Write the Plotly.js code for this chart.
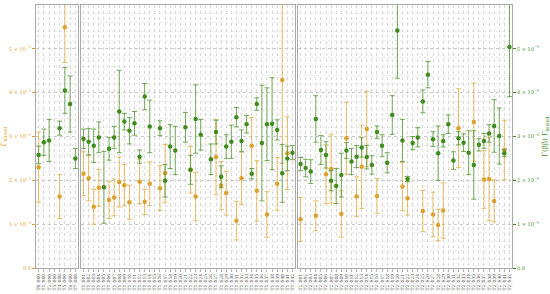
<html>
<head>
<meta charset="utf-8">
<script src="https://cdn.plot.ly/plotly-3.0.1.min.js"></script>
<style>
  body {margin:0; background:#fff}
  #chart {width:550px; height:294px}
</style>
</head>
<body>
<div id="chart"></div>
<script>
// values in units of 1e-9
var labelsA = 'T0_000 T1_000 T2_000 T3_000 T4_000 T5_000 T6_000 T7_000'.split(' ');
var greenA = [2.58, 2.87, 2.91, null, 3.19, 4.05, 3.74, 2.50];
var greenErrA = [0.2, 0.3, 0.48, 0, 0.16, 0.52, 0.64, 0.23];
var orangeA = [2.30, null, null, null, 1.63, 5.49, null, null];
var orangeErrA = [0.8, 0, 0, 0, 0.5, 0.8, 0, 0];

var labelsB = ('T1_001 T1_002 T1_003 T1_004 T1_005 T1_006 T1_007 T1_008 T1_009 T1_010 T1_011 T1_012 T1_013 T1_014 ' +
  'T1_015 T1_016 T1_017 T1_018 T1_019 T1_020 T1_021 T1_022 T1_023 T1_024 T1_025 T1_026 T1_027 T1_028 ' +
  'T1_029 T1_030 T1_031 T1_032 T1_033 T1_034 T1_035 T1_036 T1_037 T1_038 T1_039 T1_040 T1_041 T1_042').split(' ');
var greenB = [2.95, 2.88, 2.79, 2.98, 1.84, 2.72, 2.98, 3.57, 3.34, 3.13, 3.30, 2.54, 3.91, 3.23,
  null, 3.19, 1.99, 2.77, 2.68, null, 3.21, 2.24, 3.40, 3.04, null, 2.48, 3.10, 2.08,
  2.77, 2.88, 3.44, 2.90, 3.28, 2.15, 3.74, 2.85, 3.28, 3.29, 3.15, 2.16, 2.50, 2.63];
var greenErrB = [0.22, 0.3, 0.38, 0.35, 0.82, 0.26, 0.25, 0.94, 0.19, 0.3, 0.27, 0.15, 0.3, 0.6,
  0, 0.17, 0.37, 0.5, 0.55, 0, 0.34, 0.33, 0.78, 0.35, 0, 0.35, 0.27, 0.25,
  0.27, 0.38, 0.22, 0.25, 0.2, 0.12, 0.14, 1.32, 0.83, 1.05, 0.23, 0.66, 0.28, 0.16];
var orangeB = [2.15, 2.05, 1.40, 1.83, null, 1.55, 1.61, 1.96, 1.89, 1.50, null, 1.97, 1.51, 1.92,
  null, 1.82, 2.16, null, null, null, null, 2.24, 1.63, null, null, null, 2.53, 1.88,
  1.71, null, 1.08, 2.05, null, 2.79, 1.76, null, 1.22, null, 1.92, 4.29, 2.62, null];
var orangeErrB = [0.5, 0.52, 0.4, 0.42, 0, 0.42, 0.42, 0.57, 0.47, 0.39, 0, 0.5, 0.29, 0.5,
  0, 0.51, 0.66, 0, 0, 0, 0, 0.53, 0.55, 0, 0, 0, 0.86, 0.55,
  0.5, 0, 0.44, 0.6, 0, 0.64, 0.69, 0, 0.52, 0, 0.6, 1.9, 0.83, 0];

var labelsC = ('T2_001 T2_002 T2_003 T2_004 T2_005 T2_006 T2_007 T2_008 T2_009 T2_010 T2_011 T2_012 T2_013 T2_014 ' +
  'T2_015 T2_016 T2_017 T2_018 T2_019 T2_020 T2_021 T2_022 T2_023 T2_024 T2_025 T2_026 T2_027 T2_028 ' +
  'T2_029 T2_030 T2_031 T2_032 T2_033 T2_034 T2_035 T2_036 T2_037 T2_038 T2_039 T2_040 T2_041 T2_042').split(' ');
var greenC = [2.37, 2.28, 2.20, 3.40, 2.69, 2.58, 1.99, 1.87, 2.12, 2.68, 2.43, 2.54, 2.75, 2.53,
  2.35, 3.10, 2.79, 2.40, 3.49, 5.42, 2.91, 2.03, 2.85, 2.98, 3.80, 4.41, 2.94, 2.62,
  2.90, 3.28, 2.45, 2.96, 2.86, 2.63, 2.35, 2.81, 2.90, 3.07, 3.24, 3.01, 2.62, 5.04];
var greenErrC = [0.15, 0.2, 0.27, 0.53, 0.33, 0.3, 0.23, 0.4, 0.5, 0.18, 0.3, 0.25, 0.22, 0.27,
  0.21, 0.14, 0.25, 0.23, 0.44, 1.09, 0.48, 0.06, 0.15, 0.22, 0.26, 0.3, 0.17, 0.62,
  0.14, 0.21, 0.2, 0.15, 0.2, 0.5, 0.78, 0.14, 0.17, 0.2, 0.6, 0.64, 0.08, 1.13];
var orangeC = [1.11, null, null, 1.19, null, 2.14, 2.26, null, 1.23, 2.96, null, 1.63, 2.31, 3.17,
  null, 1.64, null, null, null, null, 1.86, 1.59, null, null, 1.30, null, 1.22, 0.98,
  1.31, null, null, 3.19, null, null, 3.33, null, 2.02, 2.03, 1.53, null, 2.69, null];
var orangeErrC = [0.5, 0, 0, 0.34, 0, 0.67, 0.78, 0, 0.53, 0.82, 0, 0.45, 0.95, 0.86,
  0, 0.4, 0, 0, 0, 0, 0.55, 0.38, 0, 0, 0.47, 0, 0.51, 0.36,
  0.63, 0, 0, 0.9, 0, 0, 0.89, 0, 0.66, 0.95, 0.48, 0, 0.68, 0];

var ORANGE = '#dca12e', ORANGE_BAR = 'rgba(226,170,60,0.75)';
var GREEN = '#3f8c1c', GREEN_BAR = 'rgba(82,150,50,0.8)';
var E = 1e-9;

function scale(arr) {
    return arr.map(function (v) { return v === null ? null : v * E; });
}

function makeTrace(labels, vals, errs, color, barColor, xa, ya) {
    return {
        type: 'scatter', mode: 'markers',
        x: labels, y: scale(vals),
        xaxis: xa, yaxis: ya,
        marker: {color: color, size: 4.5},
        error_y: {type: 'data', array: scale(errs), color: barColor, thickness: 1, width: 2.5},
        hoverinfo: 'skip'
    };
}

var data = [
    makeTrace(labelsA, orangeA, orangeErrA, ORANGE, ORANGE_BAR, 'x', 'y'),
    makeTrace(labelsA, greenA, greenErrA, GREEN, GREEN_BAR, 'x', 'y'),
    makeTrace(labelsB, orangeB, orangeErrB, ORANGE, ORANGE_BAR, 'x2', 'y2'),
    makeTrace(labelsB, greenB, greenErrB, GREEN, GREEN_BAR, 'x2', 'y2'),
    makeTrace(labelsC, orangeC, orangeErrC, ORANGE, ORANGE_BAR, 'x3', 'y3'),
    makeTrace(labelsC, greenC, greenErrC, GREEN, GREEN_BAR, 'x3', 'y3')
];

var yTickVals = [0, 1e-9, 2e-9, 3e-9, 4e-9, 5e-9];
var yTickText = ['0.0', '1 × 10<sup>−9</sup>', '2 × 10<sup>−9</sup>', '3 × 10<sup>−9</sup>',
                 '4 × 10<sup>−9</sup>', '5 × 10<sup>−9</sup>'];

function xAxis(domain, labels, anchor) {
    return {
        domain: domain, anchor: anchor, type: 'category',
        categoryorder: 'array', categoryarray: labels,
        range: [-0.5, labels.length - 0.5],
        tickmode: 'linear', tick0: 0, dtick: 1,
        showline: true, mirror: true, linecolor: '#aaaaaa', linewidth: 1,
        ticks: 'outside', ticklen: 3, tickcolor: '#888', tickwidth: 0.6,
        tickangle: -90, tickfont: {size: 4.5, color: '#555', family: 'DejaVu Serif'},
        showgrid: true, gridcolor: '#d0d0d0', griddash: 'dot', gridwidth: 0.8,
        zeroline: false, fixedrange: true
    };
}

function yAxis(anchor, extra) {
    var ax = {
        anchor: anchor, domain: [0, 1],
        range: [0, 6.0e-9],
        showline: true, mirror: true, linecolor: '#aaaaaa', linewidth: 1,
        showgrid: true, gridcolor: '#c0c0c0', griddash: 'dot', gridwidth: 0.8,
        minor: {dtick: 0.2e-9, showgrid: true, gridcolor: '#dddddd', griddash: 'dot', gridwidth: 0.6},
        tickmode: 'array', tickvals: yTickVals, ticktext: yTickText,
        zeroline: false, fixedrange: true
    };
    for (var k in extra) ax[k] = extra[k];
    return ax;
}

var layout = {
    width: 550, height: 294,
    margin: {l: 0, r: 0, t: 5, b: 26},
    paper_bgcolor: '#ffffff', plot_bgcolor: '#ffffff',
    showlegend: false,
    font: {family: 'DejaVu Serif', size: 6},
    xaxis: xAxis([36 / 550, 78 / 550], labelsA, 'y'),
    xaxis2: xAxis([81 / 550, 295 / 550], labelsB, 'y2'),
    xaxis3: xAxis([298 / 550, 512 / 550], labelsC, 'y3'),
    yaxis: yAxis('x', {
        ticks: 'outside', ticklen: 3, tickcolor: ORANGE,
        tickfont: {size: 5, color: ORANGE, family: 'DejaVu Serif'},
        title: {text: 'Γ<sub>mixed</sub>', font: {size: 7, color: ORANGE, family: 'DejaVu Serif'}, standoff: 6}
    }),
    yaxis2: yAxis('x2', {showticklabels: false, ticks: ''}),
    yaxis3: yAxis('x3', {
        side: 'right',
        ticks: 'outside', ticklen: 3, tickcolor: GREEN,
        tickfont: {size: 5, color: GREEN, family: 'DejaVu Serif'},
        title: {text: 'Γ(ββ) Γ<sub>mixed</sub>', font: {size: 7, color: GREEN, family: 'DejaVu Serif'}, standoff: 4}
    })
};

Plotly.newPlot('chart', data, layout, {displayModeBar: false, staticPlot: true});
</script>
</body>
</html>
